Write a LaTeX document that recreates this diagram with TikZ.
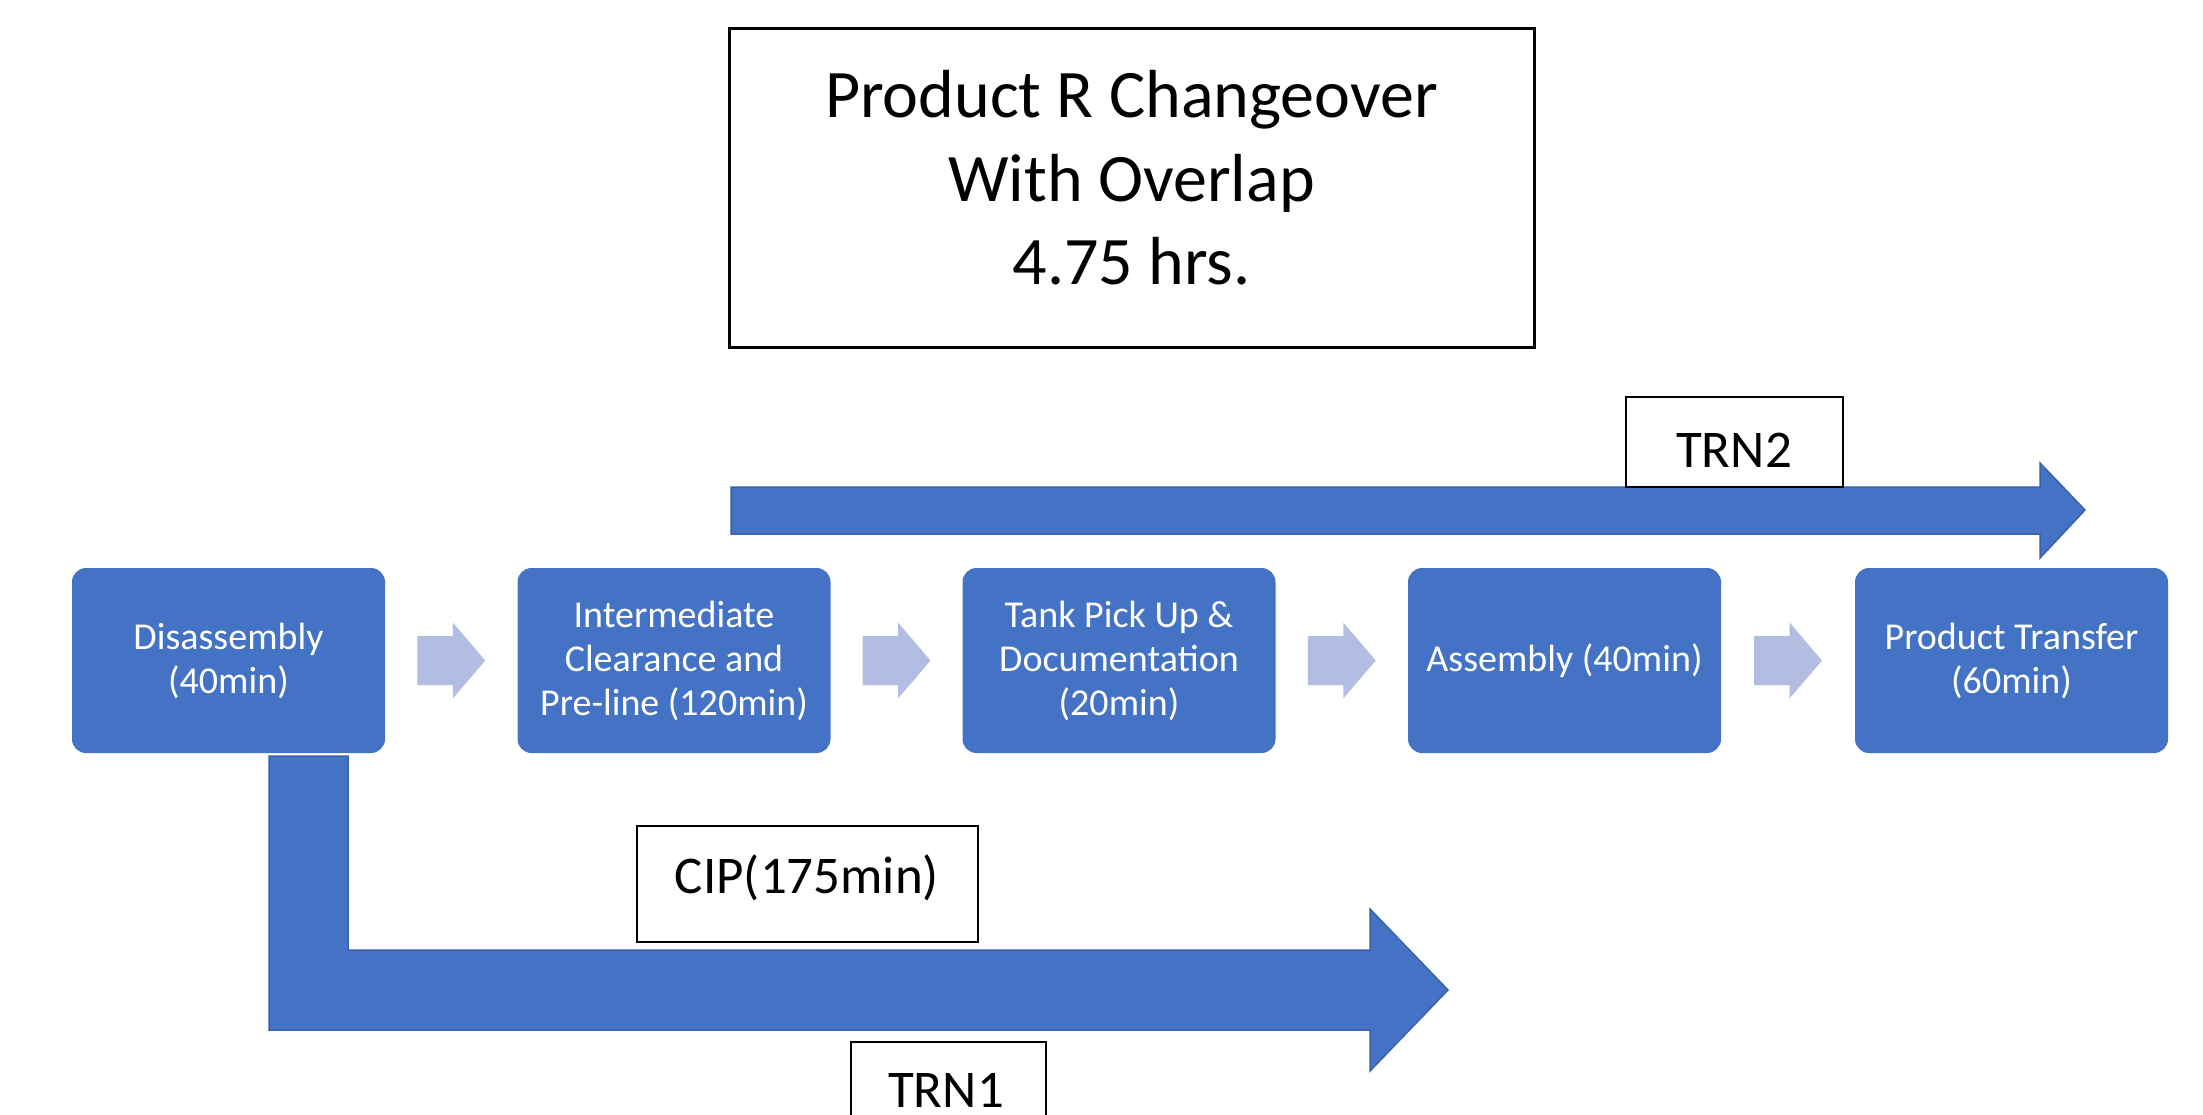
\documentclass[tikz,border=0pt]{standalone}
\usepackage{fontspec}
\setmainfont{Carlito}
\usetikzlibrary{calc}
\definecolor{ofblue}{HTML}{4472C4}
\definecolor{ofedge}{HTML}{3A62A8}
\definecolor{chevblue}{HTML}{B1BEE1}
\begin{document}
\begin{tikzpicture}[x=1pt,y=-1pt,
  stepbox/.style={rectangle, rounded corners=14pt, fill=ofblue, draw=none,
    minimum width=313pt, minimum height=185pt, text=white, align=center,
    font=\fontsize{38}{44}\selectfont, inner sep=0pt},
  labelbox/.style={rectangle, draw=black, line width=2pt, fill=white, inner sep=0pt,
    font=\fontsize{53}{64}\selectfont},
  bigarrow/.style={fill=ofblue, draw=ofedge, line width=1.5pt, line join=miter},
  chev/.style={fill=chevblue, draw=none}]
\clip (0,0) rectangle (2203,1114);
\fill[white] (0,0) rectangle (2203,1114);

% title
\node[draw=black, line width=3pt, minimum width=805pt, minimum height=319pt, inner sep=0pt]
  (titlebox) at (1131.5,187.5) {};
\node[align=center, font=\fontsize{68}{83.5}\selectfont, inner sep=0pt]
  (title) at (1131.5,178) {Product R Changeover\\With Overlap\\4.75 hrs.};

% process boxes
\node[stepbox] (s1) at (228.5,660.5) {Disassembly\\(40min)};
\node[stepbox] (s2) at (674,660.5) {Intermediate\\Clearance and\\Pre-line (120min)};
\node[stepbox] (s3) at (1119,660.5) {Tank Pick Up \&\\Documentation\\(20min)};
\node[stepbox] (s4) at (1564.5,660.5) {Assembly (40min)};
\node[stepbox] (s5) at (2011.5,660.5) {Product Transfer\\(60min)};

% chevrons between boxes
\foreach \a/\b in {s1/s2,s2/s3,s3/s4,s4/s5}{
  \path ($(\a.east)!0.5!(\b.west)$) coordinate (m);
  \fill[chev] ([shift={(-34,-24.5)}]m) -- ([shift={(1.5,-24.5)}]m) -- ([shift={(1.5,-38)}]m)
    -- ([shift={(34,0)}]m) -- ([shift={(1.5,38)}]m) -- ([shift={(1.5,24.5)}]m)
    -- ([shift={(-34,24.5)}]m) -- cycle;
}

% TRN2 arrow
\coordinate (t2tip) at (2085,510);
\draw[bigarrow] (731,487) -- (2040,487) -- (2040,463) -- (t2tip) -- (2040,558)
  -- (2040,534) -- (731,534) -- cycle;
\node[labelbox, minimum width=217pt, minimum height=90pt] (trn2) at (1734.5,442) {};
\node[font=\fontsize{53}{64}\selectfont, inner sep=0pt] (trn2text) at (1734,450) {TRN2};

% CIP / TRN1 bent arrow
\coordinate (t1tip) at (1448,990);
\draw[bigarrow] (269,756) -- (348,756) -- (348,950) -- (1370,950) -- (1370,909)
  -- (t1tip) -- (1370,1071) -- (1370,1030) -- (269,1030) -- cycle;
\node[labelbox, minimum width=341pt, minimum height=116pt] (cip) at (807.5,884) {};
\node[font=\fontsize{53}{64}\selectfont, inner sep=0pt] (ciptext) at (807,878) {CIP(175min)};
\node[labelbox, minimum width=195pt, minimum height=110pt, anchor=north] (trn1box) at (948.5,1041) {};
\node[font=\fontsize{53}{64}\selectfont, inner sep=0pt] (trn1text) at (946,1090) {TRN1};
\end{tikzpicture}
\end{document}
